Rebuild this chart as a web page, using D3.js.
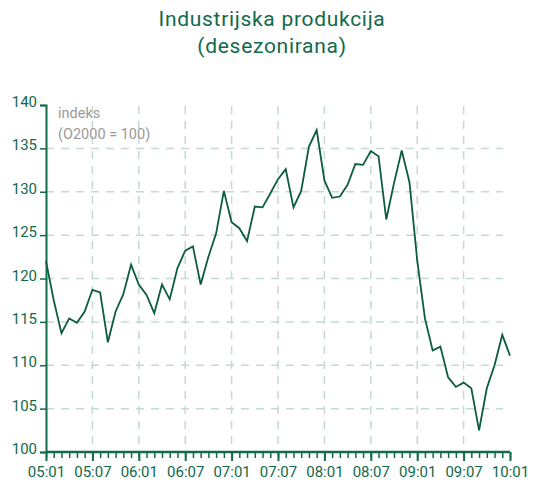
<!DOCTYPE html>
<html><head><meta charset="utf-8">
<script src="https://cdn.jsdelivr.net/npm/d3@7"></script>
<style>body{margin:0;background:#fff;} svg{display:block;font-family:Roboto, "Noto Sans", sans-serif;}</style>
</head><body><svg id="c" width="535" height="483"></svg>
<script>
const title = ["Industrijska produkcija", "(desezonirana)"];
const unitLabel = ["indeks", "(O2000 = 100)"];
const values = [122.0,117.5,113.7,115.4,114.9,116.2,118.7,118.4,112.65,116.2,118.2,121.6,
  119.3,118.1,116.0,119.3,117.6,121.2,123.2,123.7,119.3,122.5,125.2,130.1,
  126.5,125.8,124.3,128.3,128.2,129.8,131.45,132.6,128.2,130.1,135.2,137.1,
  131.3,129.3,129.45,130.8,133.2,133.1,134.7,134.1,126.8,131.0,134.75,131.1,
  122.1,115.4,111.7,112.15,108.6,107.5,108.0,107.35,102.5,107.35,110.0,113.5,111.1];
const yTicks = [100,105,110,115,120,125,130,135,140];
const xTickLabels = ["05:01","05:07","06:01","06:07","07:01","07:07","08:01","08:07","09:01","09:07","10:01"];

const green = "#12694c", lineCol = "#0d5c41", gridCol = "#c5dad1";
const svg = d3.select("#c");
const m = {l:46, r:510, t:105, b:452};
const x = d3.scaleLinear().domain([0, values.length-1]).range([m.l, m.r]);
const y = d3.scaleLinear().domain([100,140]).range([m.b, m.t]);

svg.append("g").selectAll("text").data(title).join("text")
  .attr("x", 272).attr("y", (d,i)=>26+i*27).attr("text-anchor","middle")
  .attr("font-size", 21).attr("letter-spacing", 0.7).attr("fill", green).text(d=>d);

// grid horizontal
svg.append("g").selectAll("line").data(yTicks.filter(v=>v>100 && v<140)).join("line")
  .attr("x1", m.l).attr("x2", 503).attr("y1", d=>y(d)).attr("y2", d=>y(d))
  .attr("stroke", gridCol).attr("stroke-width",1.5).attr("stroke-dasharray","8,7");
// grid vertical
const majorIdx = d3.range(6, values.length-1, 6);
svg.append("g").selectAll("line").data(majorIdx).join("line")
  .attr("x1", d=>x(d)).attr("x2", d=>x(d)).attr("y1", m.t+1).attr("y2", m.b)
  .attr("stroke", gridCol).attr("stroke-width",1.5).attr("stroke-dasharray","8,7");

// y axis
const yAxis = d3.axisLeft(y).tickValues(yTicks).tickSize(6).tickPadding(3).tickFormat(d3.format("d"));
const ya = svg.append("g").attr("transform",`translate(${m.l},0)`).call(yAxis);
ya.select(".domain").attr("stroke", green).attr("stroke-width",2);
ya.selectAll(".tick line").attr("stroke", green).attr("stroke-width",1.5);
ya.selectAll(".tick text").attr("fill", green).attr("font-size",15).attr("font-family","Roboto").attr("dy","0.1em");

// x axis minor ticks
const xAxisMinor = d3.axisBottom(x).tickValues(d3.range(0, values.length)).tickSize(6).tickFormat("");
const xm = svg.append("g").attr("transform",`translate(0,${m.b})`).call(xAxisMinor);
xm.select(".domain").remove();
xm.selectAll(".tick line").attr("stroke", green).attr("stroke-width",1.5);
// x axis major
const majorAll = d3.range(0, values.length, 6);
const xAxis = d3.axisBottom(x).tickValues(majorAll).tickSize(9).tickPadding(5)
  .tickFormat((d,i)=>xTickLabels[i]);
const xa = svg.append("g").attr("transform",`translate(0,${m.b})`).call(xAxis);
xa.select(".domain").attr("stroke", green).attr("stroke-width",2.5).attr("d",`M${m.l},0H${m.r}`);
xa.selectAll(".tick line").attr("stroke", green).attr("stroke-width",2);
xa.selectAll(".tick text").attr("fill", green).attr("font-size",15).attr("font-family","Roboto");

// unit label
svg.append("g").selectAll("text").data(unitLabel).join("text")
  .attr("x", 58).attr("y", (d,i)=>118+i*21).attr("font-size",14.5).attr("fill","#9a9a9a").text(d=>d);

// line
svg.append("path").datum(values)
  .attr("d", d3.line().x((d,i)=>x(i)).y(d=>y(d)))
  .attr("fill","none").attr("stroke", lineCol).attr("stroke-width",1.8).attr("stroke-linejoin","miter");
</script></body></html>
